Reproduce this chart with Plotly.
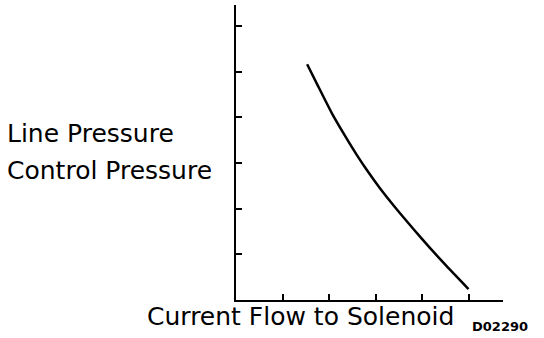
import plotly.graph_objects as go

# Solenoid current vs. line/control pressure (arbitrary units)
current = [1.53, 1.77, 2.06, 2.31, 2.60, 2.81, 3.10, 3.46, 3.81, 4.17, 4.53, 5.00]
pressure = [5.16, 4.67, 4.09, 3.65, 3.17, 2.85, 2.44, 1.98, 1.56, 1.14, 0.74, 0.24]

x_ticks = [1, 2, 3, 4, 5]
y_ticks = [1, 2, 3, 4, 5, 6]

W, H = 544, 338
L, R, T, B = 236, 41, 5, 38
plot_w, plot_h = W - L - R, H - T - B


def px(x, y):
    """Pixel position on the page -> paper coordinates."""
    return (x - L) / plot_w, (H - B - y) / plot_h


FONT = "DejaVu Sans, Arial, Helvetica, sans-serif"

fig = go.Figure()
fig.add_trace(go.Scatter(
    x=current, y=pressure, mode="lines",
    line=dict(color="black", width=2.5, shape="spline", smoothing=0.5),
    hoverinfo="skip", showlegend=False,
))

axis_common = dict(
    showline=True, linecolor="black", linewidth=2,
    ticks="inside", ticklen=6, tickwidth=2, tickcolor="black",
    showticklabels=False, showgrid=False, zeroline=False,
)
fig.update_xaxes(range=[0, plot_w / 46.5], tickvals=x_ticks, **axis_common)
fig.update_yaxes(range=[0, plot_h / 45.7], tickvals=y_ticks, **axis_common)

labels = [
    ("Line Pressure", 5, 133, 25),
    ("Control Pressure", 5, 170, 25),
    ("Current Flow to Solenoid", 145, 316, 25),
    ("<b>D02290</b>", 470, 326, 13),
]
for text, x0, yc, size in labels:
    ax, ay = px(x0, yc)
    fig.add_annotation(
        text=text, xref="paper", yref="paper", x=ax, y=ay,
        xanchor="left", yanchor="middle", showarrow=False,
        font=dict(family=FONT, size=size, color="black"),
    )

fig.update_layout(
    width=W, height=H,
    margin=dict(l=L, r=R, t=T, b=B),
    paper_bgcolor="white", plot_bgcolor="white",
)

fig.write_html("out.html")
